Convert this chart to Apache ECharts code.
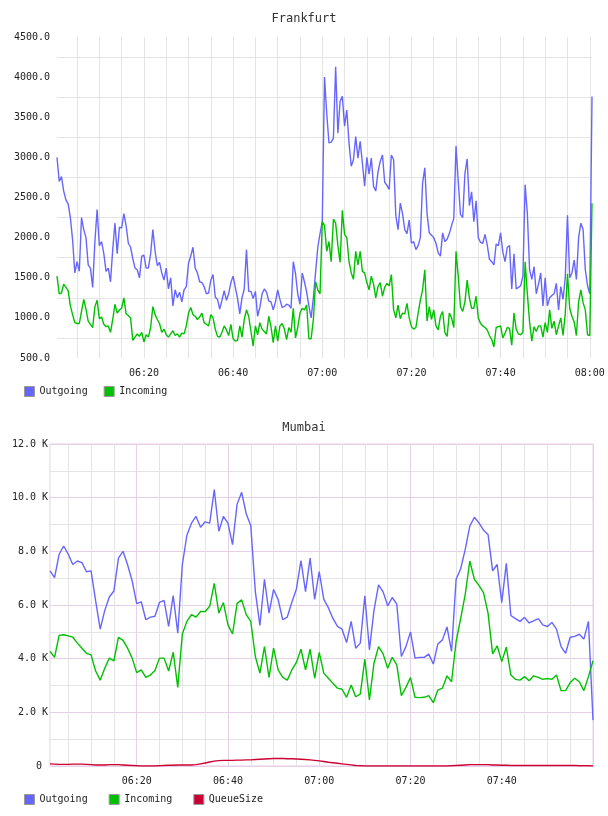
<!DOCTYPE html>
<html>
<head>
<meta charset="utf-8">
<title>Frankfurt / Mumbai</title>
<script src="https://cdn.jsdelivr.net/npm/echarts@6/dist/echarts.min.js"></script>
<style>
  body { margin: 0; background: #fff; }
  .chart { width: 608px; height: 408px; }
</style>
</head>
<body>
<div id="frankfurt" class="chart"></div>
<div id="mumbai" class="chart"></div>
<script>
// Frankfurt: one point every 30 s, 06:00:30 .. 08:00:30
const fraOutgoing = [
  3000, 2700, 2760, 2580, 2470, 2420, 2250, 1970, 1560, 1700,
  1580, 2250, 2100, 2000, 1660, 1620, 1380, 1950, 2350, 1900,
  1950, 1800, 1580, 1620, 1450, 1850, 2180, 1800, 2130, 2120,
  2300, 2150, 1930, 1880, 1740, 1620, 1600, 1500, 1770, 1780,
  1620, 1620, 1800, 2100, 1830, 1650, 1690, 1560, 1470, 1620,
  1360, 1500, 1150, 1350, 1250, 1320, 1200, 1350, 1390, 1680,
  1770, 1880, 1620, 1560, 1450, 1440, 1390, 1300, 1310, 1470,
  1540, 1260, 1230, 1110, 1220, 1340, 1220, 1300, 1440, 1520,
  1380, 1240, 1050, 1250, 1360, 1850, 1330, 1330, 1240, 1330,
  1020, 1130, 1300, 1360, 1320, 1210, 1200, 1100, 1200, 1350,
  1230, 1130, 1140, 1170, 1160, 1120, 1700, 1550, 1300, 1170,
  1560, 1450, 1320, 1150, 1000, 1250, 1570, 1880, 2050, 2200,
  4000, 3550, 3180, 3190, 3240, 4130, 3300, 3700, 3760, 3390,
  3590, 3180, 2890, 2970, 3260, 2990, 3200, 2930, 2640, 3000,
  2790, 2990, 2640, 2580, 2820, 2950, 3030, 2690, 2650, 2600,
  3030, 2970, 2270, 2100, 2430, 2300, 2100, 2050, 2220, 1930,
  1950, 1850, 1900, 2000, 2680, 2870, 2300, 2060, 2030, 2000,
  1930, 1810, 1770, 2060, 1950, 1980, 2050, 2150, 2240,
  3140, 2700, 2290, 2250, 2800, 2980, 2400, 2570, 2200, 2460,
  2000, 1940, 1930, 2040, 1910, 1730, 1700, 1660, 1920, 1900,
  2060, 1820, 1700, 1880, 1900, 1360, 1800, 1360, 1380, 1400,
  1520, 2660, 2300, 1600, 1480, 1640, 1300, 1420, 1560, 1150,
  1500, 1150, 1250, 1280, 1300, 1430, 1100, 1390, 1230, 1500,
  2280, 1500, 1560, 1720, 1480, 2000, 2180, 2100, 1600, 1400,
  1300, 3760
];
const fraIncoming = [
  1520, 1300, 1310, 1420, 1380, 1340, 1150, 1040, 940, 930,
  930, 1080, 1230, 1110, 960, 920, 880, 1140, 1220, 990,
  1010, 920, 890, 900, 820, 980, 1170, 1060, 1100, 1120,
  1250, 1050, 1030, 1000, 720, 760, 800, 770, 820, 700,
  790, 760, 880, 1140, 1040, 980, 930, 820, 860, 790,
  760, 800, 840, 780, 800, 760, 810, 800, 900, 1060,
  1130, 1040, 1020, 980, 1010, 1060, 940, 920, 900, 1040,
  1000, 860, 770, 760, 820, 900, 850, 780, 920, 740,
  710, 720, 900, 760, 980, 1100, 1020, 830, 650, 900,
  790, 940, 860, 830, 800, 1020, 890, 690, 900, 710,
  900, 930, 860, 730, 880, 820, 1120, 750, 880, 1060,
  1120, 1100, 1160, 740, 740, 980, 1450, 1350, 1300, 2200,
  2150, 1830, 1950, 1700, 2230, 2180, 1900, 1690, 2340, 2040,
  2000, 1700, 1560, 1480, 1830, 1660, 1830, 1580, 1560, 1440,
  1350, 1520, 1420, 1250, 1390, 1440, 1270, 1380, 1430, 1400,
  1540, 1100, 1000, 1160, 990, 1060, 1050, 1180, 1000, 890,
  860, 880, 1060, 1220, 1350, 1600, 960, 1140, 980, 1100,
  900, 850, 1020, 1080, 820, 770, 1060, 1000, 880,
  1830, 1520, 1140, 1080, 1200, 1470, 1250, 1120, 1120, 1270,
  1000, 930, 900, 880, 850, 780, 730, 640, 880, 890,
  900, 750, 810, 880, 870, 660, 1060, 860, 800, 790,
  820, 1700, 1300, 950, 710, 890, 830, 900, 900, 760,
  940, 820, 1100, 870, 960, 790, 900, 1000, 780, 1050,
  1550, 1120, 1020, 950, 780, 1200, 1350, 1190, 1100, 790,
  780, 2430
];
const fraTicks = ['06:20', '06:40', '07:00', '07:20', '07:40', '08:00'];
const fraYTicks = [500, 1000, 1500, 2000, 2500, 3000, 3500, 4000, 4500];

// Mumbai: one point a minute, 06:01 .. 08:00
const mumOutgoing = [
  7270, 7020, 7890, 8200, 7890, 7510, 7640, 7580, 7240, 7270,
  6150, 5100, 5800, 6300, 6520, 7750, 8000, 7500, 6900, 6050,
  6120, 5450, 5550, 5580, 6100, 6170, 5200, 6350, 4950, 7500,
  8600, 9050, 9300, 8900, 9100, 9050, 10300, 8750, 9300, 9050,
  8250, 9750, 10200, 9400, 8950, 6500, 5240, 6960, 5700, 6580,
  6200, 5450, 5550, 6100, 6600, 7650, 6500, 7750,
  6210, 7240, 6210, 5900, 5500, 5200, 5100, 4600, 5390, 4390,
  4580, 6340, 4330, 5800, 6750, 6490, 5970, 6280, 6030, 4080,
  4450, 5000, 4020, 4050, 4050, 4170, 3800, 4550, 4700, 5180,
  4270, 6960, 7350, 8070, 8940, 9270, 9060, 8790, 8630, 7270,
  7510, 6090, 7550, 5610, 5490, 5390, 5540, 5330, 5410, 5490,
  5260, 5200, 5350, 5100, 4450, 4200, 4800, 4830, 4910, 4730,
  5390, 1710
];
const mumIncoming = [
  4270, 4050, 4870, 4890, 4850, 4800, 4580, 4390, 4200, 4140,
  3540, 3200, 3640, 4020, 3920, 4800, 4680, 4390, 4020, 3480,
  3580, 3300, 3390, 3560, 4020, 4020, 3540, 4240, 2930, 4920,
  5390, 5640, 5550, 5760, 5760, 5950, 6810, 5700, 6090, 5260,
  4920, 6060, 6190, 5640, 5390, 4080, 3460, 4450, 3300, 4390,
  3580, 3300, 3200, 3580, 3860, 4350, 3580, 4350,
  3270, 4230, 3460, 3270, 3080, 2900, 2860, 2560, 3020, 2580,
  2680, 3980, 2460, 3830, 4450, 4180, 3640, 4050, 3770, 2620,
  2930, 3300, 2560, 2550, 2560, 2620, 2360, 2830, 2900, 3360,
  3140, 4640, 5500, 6400, 7640, 6960, 6730, 6460, 5700, 4180,
  4480, 3890, 4430, 3390, 3230, 3200, 3330, 3180, 3360, 3300,
  3230, 3260, 3230, 3390, 2810, 2810, 3110, 3270, 3140, 2810,
  3330, 3920
];
const mumQueueSize = [
  80, 70, 60, 60, 60, 70, 70, 70, 60, 50,
  40, 40, 40, 50, 50, 50, 40, 30, 20, 10,
  0, 0, 0, 0, 10, 20, 30, 30, 40, 40,
  40, 40, 50, 80, 110, 150, 180, 200, 210, 210,
  210, 220, 220, 230, 230, 240, 250, 260, 270, 280,
  280, 280, 270, 270, 260, 250, 240, 230, 210, 190,
  170, 140, 120, 100, 80, 60, 40, 20, 10, 0,
  0, 0, 0, 0, 0, 0, 0, 0, 0, 0,
  0, 0, 0, 0, 0, 0, 0, 0, 10, 20,
  30, 40, 50, 50, 50, 50, 50, 40, 40, 30,
  30, 20, 20, 20, 20, 20, 20, 20, 20, 20,
  20, 20, 20, 20, 20, 20, 10, 10, 10, 0
];
const mumTicks = ['06:20', '06:40', '07:00', '07:20', '07:40'];
const mumMajorLines = ['06:20', '06:40', '07:00', '07:20', '07:40', '08:00'];

const FONT = '"DejaVu Sans Mono", monospace';
const BLUE = '#6666ff';
const GREEN = '#00c000';
const RED = '#cc0033';
const GRID_GRAY = '#e4e4e4';
const GRID_PINK = '#e8cfe8';

// 'HH:MM:SS' 形式の時刻ラベルを作る
function timeLabels(startSec, stepSec, count) {
  const out = [];
  for (let i = 0; i < count; i++) {
    const s = startSec + i * stepSec;
    const hh = String(Math.floor(s / 3600)).padStart(2, '0');
    const mm = String(Math.floor(s / 60) % 60).padStart(2, '0');
    const ss = String(s % 60).padStart(2, '0');
    out.push(hh + ':' + mm + ':' + ss);
  }
  return out;
}

const fraTimes = timeLabels(6 * 3600 + 30, 30, fraOutgoing.length);
const mumTimes = timeLabels(6 * 3600 + 60, 60, mumOutgoing.length);

const onFiveMin = (i, v) => v.endsWith(':00') && Number(v.slice(3, 5)) % 5 === 0;
const textStyle = { fontFamily: FONT, fontSize: 10, color: '#222' };

function lineSeries(name, data, color, extra) {
  return Object.assign({
    name: name,
    type: 'line',
    data: data,
    symbol: 'none',
    color: color,
    lineStyle: { width: 1.4, color: color }
  }, extra || {});
}

function legend(gap) {
  return {
    left: 24,
    top: 386,
    padding: 0,
    icon: 'rect',
    itemWidth: 10,
    itemHeight: 10,
    itemGap: gap,
    itemStyle: { borderColor: '#999', borderWidth: 1 },
    textStyle: textStyle
  };
}

function title(text, top) {
  return {
    text: text,
    left: 'center',
    top: top,
    padding: 0,
    textStyle: { fontFamily: FONT, fontSize: 12, fontWeight: 'normal', color: '#333' }
  };
}

// 上のチャート
const fraChart = echarts.init(document.getElementById('frankfurt'));
fraChart.setOption({
  animation: false,
  title: title('Frankfurt', 13),
  legend: legend(16),
  grid: { left: 57, right: 16, top: 37, height: 321 },
  xAxis: {
    type: 'category',
    boundaryGap: false,
    data: fraTimes,
    axisLine: { show: false },
    axisTick: { show: false },
    axisLabel: {
      interval: (i, v) => v.endsWith(':00') && fraTicks.includes(v.slice(0, 5)),
      formatter: v => v.slice(0, 5),
      margin: 10,
      ...textStyle
    },
    splitLine: { show: true, interval: onFiveMin, lineStyle: { color: GRID_GRAY, width: 1 } }
  },
  yAxis: {
    type: 'value',
    min: fraYTicks[0],
    max: fraYTicks[fraYTicks.length - 1],
    interval: fraYTicks[1] - fraYTicks[0],
    axisLine: { show: false },
    axisTick: { show: false },
    axisLabel: { formatter: v => v.toFixed(1), margin: 7, ...textStyle },
    splitLine: { show: false },
    minorTick: { show: false, splitNumber: 2 },
    minorSplitLine: { show: true, lineStyle: { color: GRID_GRAY, width: 1 } }
  },
  series: [
    lineSeries('Outgoing', fraOutgoing, BLUE),
    lineSeries('Incoming', fraIncoming, GREEN)
  ]
});

// 下のチャート
const mumChart = echarts.init(document.getElementById('mumbai'));
mumChart.setOption({
  animation: false,
  title: title('Mumbai', 14),
  legend: legend(21),
  grid: { left: 50, right: 15, top: 36, height: 322, show: true, borderColor: GRID_PINK, borderWidth: 1 },
  xAxis: [
    {
      type: 'category',
      boundaryGap: false,
      data: mumTimes,
      axisLine: { show: false },
      axisTick: { show: false },
      axisLabel: {
        interval: (i, v) => v.endsWith(':00') && mumTicks.includes(v.slice(0, 5)),
        formatter: v => v.slice(0, 5),
        margin: 10,
        ...textStyle
      },
      splitLine: {
        show: true,
        interval: (i, v) => mumMajorLines.includes(v.slice(0, 5)),
        lineStyle: { color: GRID_PINK, width: 1 }
      },
      z: 2
    },
    {
      type: 'category',
      boundaryGap: false,
      position: 'top',
      data: mumTimes,
      axisLine: { show: false },
      axisTick: { show: false },
      axisLabel: { show: false },
      splitLine: {
        show: true,
        interval: (i, v) => onFiveMin(i, v) && !mumMajorLines.includes(v.slice(0, 5)),
        lineStyle: { color: GRID_GRAY, width: 1 }
      },
      z: 1
    }
  ],
  yAxis: {
    type: 'value',
    min: 0,
    max: 12000,
    interval: 2000,
    axisLine: { show: false },
    axisTick: { show: false },
    axisLabel: {
      formatter: v => v === 0 ? '0 ' : (v / 1000).toFixed(1) + ' K',
      margin: 2,
      ...textStyle
    },
    splitLine: { show: true, lineStyle: { color: GRID_PINK, width: 1 } },
    minorTick: { show: false, splitNumber: 2 },
    minorSplitLine: { show: true, lineStyle: { color: GRID_GRAY, width: 1 } }
  },
  series: [
    lineSeries('Outgoing', mumOutgoing, BLUE),
    lineSeries('Incoming', mumIncoming, GREEN),
    lineSeries('QueueSize', mumQueueSize, RED)
  ]
});
</script>
</body>
</html>
